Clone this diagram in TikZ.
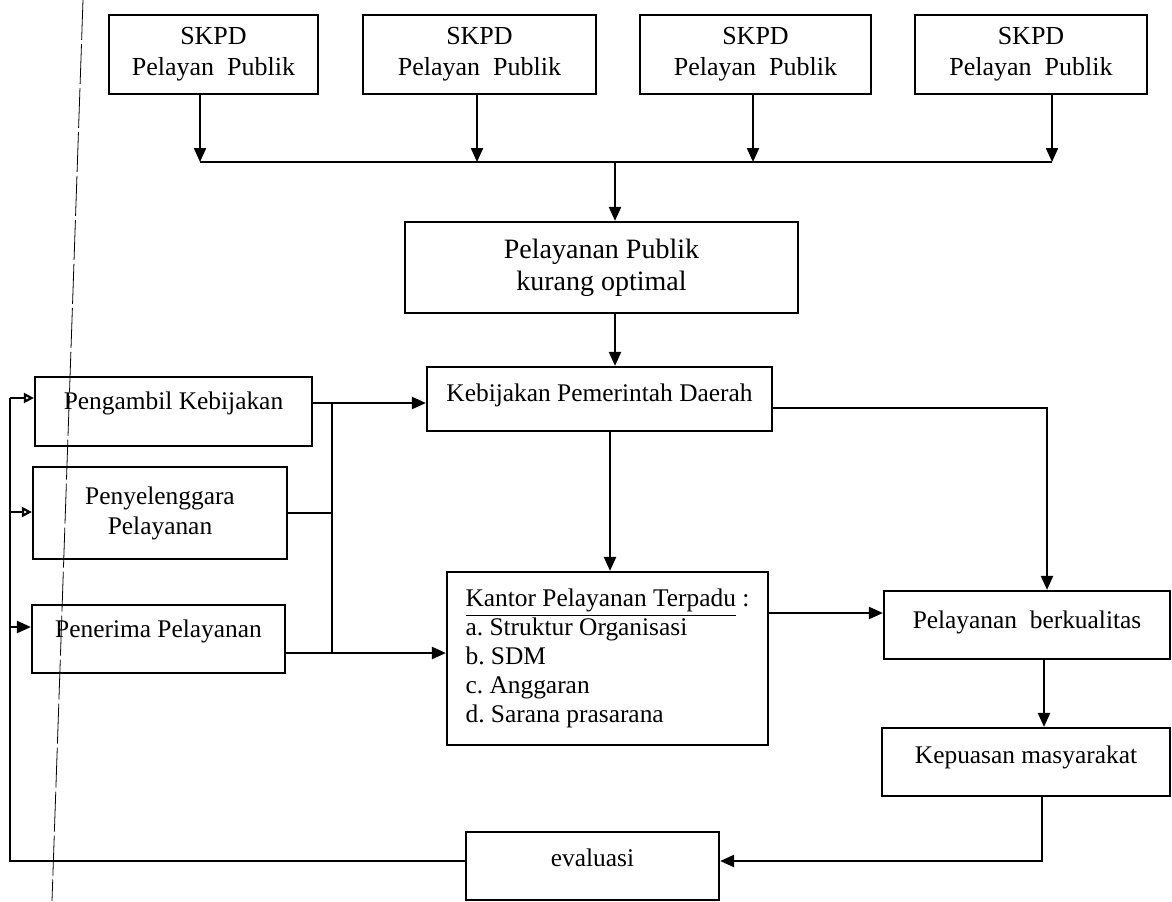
\documentclass[tikz,border=0pt]{standalone}
\usepackage{fontspec}
\setmainfont{Liberation Serif}
\usepackage{tikz}
\tikzset{font={\fontsize{12.7pt}{14.5pt}\selectfont}}
\usetikzlibrary{arrows.meta}
\frenchspacing

\begin{document}
\begin{tikzpicture}[x=0.5pt,y=-0.5pt,line width=1.1pt,>={Triangle[length=7pt,width=6pt]},
                    box node/.style={draw,rectangle,inner sep=2pt,align=center},
                    up/.style={text height=9pt,text depth=#1},
                    open tip/.style={-{Triangle[open,length=5pt,width=5pt]}},
                    skpd/.style={box node,minimum height=39.5pt,font=\fontsize{13pt}{15.5pt}\selectfont}]

  \useasboundingbox (0,0) rectangle (1172,901);

  \node[skpd,minimum width=104.5pt] (s1) at (213.5,54.5) {SKPD\\Pelayan\ \ Publik};
  \node[skpd,minimum width=116.5pt] (s2) at (479.5,54.5) {SKPD\\Pelayan\ \ Publik};
  \node[skpd,minimum width=115.5pt] (s3) at (755.5,54.5) {SKPD\\Pelayan\ \ Publik};
  \node[skpd,minimum width=116pt] (s4) at (1031,54.5) {SKPD\\Pelayan\ \ Publik};
  \node[box node,minimum width=196.5pt,minimum height=45.5pt,font=\fontsize{14pt}{16pt}\selectfont] (pub) at (601.5,267.5) {Pelayanan Publik\\kurang optimal};
  \node[box node,minimum width=172.5pt,minimum height=32pt,up=6.4pt] (keb) at (599.5,399) {Kebijakan Pemerintah Daerah};
  \node[box node,minimum width=160.5pt,minimum height=86.5pt,align=left] (ktr) at (607.5,658.5)
    {\underline{Kantor Pelayanan Terpadu} :\\a. Struktur Organisasi\\b. SDM\\c. Anggaran\\d. Sarana prasarana};
  \node[box node,minimum width=138.5pt,minimum height=34.5pt,up=10.9pt] (pk) at (173.5,411.5) {Pengambil Kebijakan};
  \node[box node,minimum width=127pt,minimum height=46pt,font=\fontsize{12.7pt}{15pt}\selectfont] (py) at (160,513) {Penyelenggara\\Pelayanan};
  \node[box node,minimum width=126.5pt,minimum height=34pt,up=10.4pt] (pn) at (158.5,639) {Penerima Pelayanan};
  \node[box node,minimum width=143pt,minimum height=34pt,up=5.4pt] (pb) at (1027,625) {Pelayanan\ \ berkualitas};
  \node[box node,minimum width=144pt,minimum height=34pt,up=7.4pt] (kp) at (1026,762) {Kepuasan masyarakat};
  \node[box node,minimum width=126.5pt,minimum height=34pt,up=8.4pt] (ev) at (592.5,866) {evaluasi};

  \coordinate (b1) at (200,162);
  \coordinate (b2) at (477,162);
  \coordinate (b3) at (753,162);
  \coordinate (b4) at (1052,162);
  \coordinate (bm) at (615,162);
  \coordinate (k1) at (610,500);
  \coordinate (j1) at (332,403);
  \coordinate (j2) at (332,653);
  \coordinate (r1) at (1047,408);
  \coordinate (c1) at (830,613);
  \coordinate (r2) at (1044,700);
  \coordinate (r3) at (1042,861);
  \coordinate (lf) at (10,861);
  \coordinate (l1) at (10,398);
  \coordinate (l2) at (10,512);
  \coordinate (l3) at (10,627);

  \draw[->] (s1.south -| b1) -- (b1);
  \draw[->] (s2.south -| b2) -- (b2);
  \draw[->] (s3.south -| b3) -- (b3);
  \draw[->] (s4.south -| b4) -- (b4);
  \draw (b1) -- (b4);
  \draw[->] (bm) -- (bm |- pub.north);
  \draw[->] (pub.south -| bm) -- (keb.north -| bm);
  \draw[->] (keb.south -| k1) -- (ktr.north -| k1);

  \draw (pk.east |- j1) -- (j1);
  \draw (py.east) -- (py.east -| j1);
  \draw (pn.east |- j2) -- (j2);
  \draw (j1) -- (j2);
  \draw[->] (j1) -- (keb.west |- j1);
  \draw[->] (j2) -- (ktr.west |- j2);

  \draw[->] (keb.east |- r1) -- (r1) -- (r1 |- pb.north);
  \draw[->] (ktr.east |- c1) -- (pb.west |- c1);
  \draw[->] (pb.south -| r2) -- (kp.north -| r2);
  \draw[->] (kp.south -| r3) -- (r3) -- (ev.east |- r3);

  \draw (ev.west |- lf) -- (lf) -- (l1);
  \draw[open tip] (l1) -- (pk.west |- l1);
  \draw[open tip] (l2) -- (py.west |- l2);
  \draw[->] (l3) -- (pn.west |- l3);

  \draw[line width=0.4pt,dash pattern=on 20pt off 2pt] (83,0) -- (52,901);
\end{tikzpicture}
\end{document}
